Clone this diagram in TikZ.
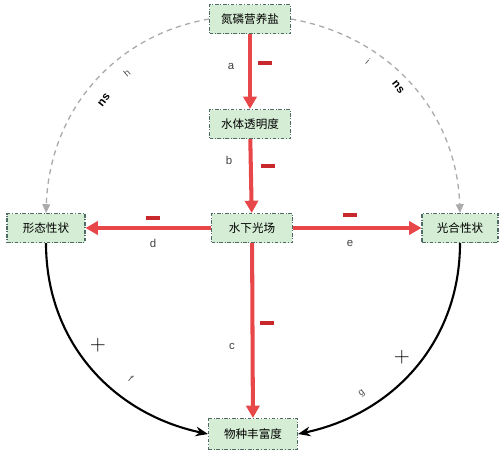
\documentclass[tikz,border=0pt]{standalone}
\usepackage{fontspec}
\setmainfont{Liberation Sans}
\newfontfamily\cjk{Noto Sans CJK SC}
\usetikzlibrary{arrows.meta, positioning}

\definecolor{boxfill}{HTML}{D5EDD5}
\definecolor{boxline}{HTML}{4F6B66}
\definecolor{negred}{HTML}{E8474A}
\definecolor{minusred}{HTML}{C8282C}
\definecolor{nsgray}{HTML}{ABABAB}

\tikzset{
  factor/.style={draw=boxline, fill=boxfill, line width=0.6pt,
    dash pattern=on 2pt off 1pt on 0.5pt off 1pt,
    minimum width=1.62cm, minimum height=0.58cm, inner sep=1pt,
    font=\cjk\fontsize{6.6}{8}\selectfont},
  negarrow/.style={draw=negred, line width=2.3pt,
    -{Triangle[length=7pt,width=7.5pt]}},
  nsarrow/.style={draw=nsgray, line width=0.75pt,
    dash pattern=on 3pt off 2.5pt, -{Triangle[length=5pt,width=4.5pt]}},
  posarrow/.style={draw=black, line width=1.2pt,
    -{Stealth[length=7pt,width=5.5pt]}},
  tag/.style={font=\fontsize{6.5}{8}\selectfont, text=black!75},
  small tag/.style={font=\fontsize{5.5}{7}\selectfont, text=black!70, inner sep=0pt},
  ns tag/.style={font=\fontsize{6.5}{8}\selectfont\bfseries, inner sep=0pt},
  minus/.style={inner sep=0pt, text=minusred}
}
\newcommand{\negbar}{\rule{8pt}{1.8pt}}

\begin{document}
\begin{tikzpicture}[x=0.02cm, y=-0.02cm]
\useasboundingbox (0,0) rectangle (500,457);

% factors
\node[factor] (np) at (250,19) {氮磷营养盐};
\node[factor] (clear) at (250,124) {水体透明度};
\node[factor] (light) at (252,228) {水下光场};
\node[factor, minimum width=1.56cm] (morph) at (46,228) {形态性状};
\node[factor, minimum width=1.52cm] (photo) at (460,228) {光合性状};
\node[factor, minimum width=1.78cm, minimum height=0.62cm] (rich) at (253,434) {物种丰富度};

% negative effects
\draw[negarrow] (np) -- (clear);
\draw[negarrow] (clear) -- (light);
\draw[negarrow] (light) -- (morph);
\draw[negarrow] (light) -- (photo);
\draw[negarrow] (light) -- (rich);

% non-significant paths
\draw[nsarrow] (np.west) to[out=190, in=88] (morph.north);
\draw[nsarrow] (np.east) to[out=-10, in=92] (photo.north);

% positive effects
\draw[posarrow] (morph.south) to[out=-90, in=168] (rich.west);
\draw[posarrow] (photo.south) to[out=-90, in=12] (rich.east);

% path labels
\node[tag] (la) at (231,66) {a};
\node[minus] (ma) at (265,63) {\negbar};
\node[tag] (lb) at (229,160) {b};
\node[minus] (mb) at (268,166) {\negbar};
\node[tag] (lc) at (232,346) {c};
\node[minus] (mc) at (267,323) {\negbar};
\node[tag] (ld) at (153,243) {d};
\node[minus] (md) at (153,218) {\negbar};
\node[tag] (le) at (350,243) {e};
\node[minus] (me) at (350,215) {\negbar};

\node[small tag, rotate=40] (lh) at (127,73) {h};
\node[ns tag, rotate=52] (nsh) at (104,100) {ns};
\node[small tag, rotate=-40] (li) at (368,62) {i};
\node[ns tag, rotate=-52] (nsi) at (398,87) {ns};

\node[font=\fontsize{12}{12}\selectfont] (pf) at (98,345) {$+$};
\node[small tag, rotate=-40] (lf) at (131,379) {f};
\node[font=\fontsize{12}{12}\selectfont] (pg) at (402,357) {$+$};
\node[small tag, rotate=38] (lg) at (362,394) {g};
\end{tikzpicture}
\end{document}
